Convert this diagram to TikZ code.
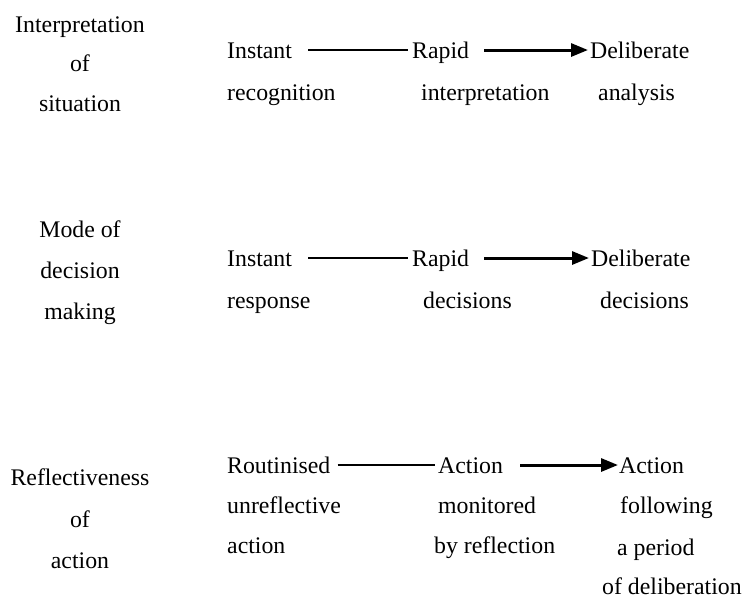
\documentclass[tikz,border=0pt]{standalone}
\usepackage{fontspec}
\setmainfont{Liberation Serif}
\usetikzlibrary{arrows.meta,calc}
\begin{document}
\begin{tikzpicture}[x=1pt,y=-1pt,
  lbl/.style={inner sep=0pt, anchor=base west, font=\fontsize{23.8}{28}\selectfont},
  side/.style={lbl, anchor=base},
  thinline/.style={line width=1.8pt},
  arrowline/.style={line width=3pt, -{Triangle[length=17pt,width=13pt]}}]
\useasboundingbox (0,0) rectangle (746,598);
% left column
\node[side] (l1a) at (80,32) {Interpretation};
\node[side] (l1b) at (80,71) {of};
\node[side] (l1c) at (80,111) {situation};
\node[side] (l2a) at (80,237) {Mode of};
\node[side] (l2b) at (80,278) {decision};
\node[side] (l2c) at (80,319) {making};
\node[side] (l3a) at (80,485) {Reflectiveness};
\node[side] (l3b) at (80,527) {of};
\node[side] (l3c) at (80,568) {action};
% row 1
\node[lbl] (a1) at (227,58) {Instant};
\node[lbl] (b1) at (412,58) {Rapid};
\node[lbl] (c1) at (590,58) {Deliberate};
\node[lbl] (a1b) at (227,100) {recognition};
\node[lbl] (b1b) at (421,100) {interpretation};
\node[lbl] (c1b) at (598,100) {analysis};
% row 2
\node[lbl] (a2) at (227,266) {Instant};
\node[lbl] (b2) at (412,266) {Rapid};
\node[lbl] (c2) at (591,266) {Deliberate};
\node[lbl] (a2b) at (227,308) {response};
\node[lbl] (b2b) at (423,308) {decisions};
\node[lbl] (c2b) at (600,308) {decisions};
% row 3
\node[lbl] (a3) at (227,473) {Routinised};
\node[lbl] (b3) at (438,473) {Action};
\node[lbl] (c3) at (619,473) {Action};
\node[lbl] (a3b) at (227,513) {unreflective};
\node[lbl] (b3b) at (438,513) {monitored};
\node[lbl] (c3b) at (620,513) {following};
\node[lbl] (a3c) at (227,553) {action};
\node[lbl] (b3c) at (434,553) {by reflection};
\node[lbl] (c3c) at (617,555) {a period};
\node[lbl] (c3d) at (602,594) {of deliberation};
% connectors
\draw[thinline] ($(a1.base east)+(16pt,8pt)$) -- ($(b1.base west)+(-4pt,8pt)$);
\draw[arrowline] ($(b1.base east)+(15pt,8pt)$) -- ($(c1.base west)+(-2pt,8pt)$);
\draw[thinline] ($(a2.base east)+(16pt,8pt)$) -- ($(b2.base west)+(-4pt,8pt)$);
\draw[arrowline] ($(b2.base east)+(15pt,8pt)$) -- ($(c2.base west)+(-2pt,8pt)$);
\draw[thinline] ($(a3.base east)+(7pt,8pt)$) -- ($(b3.base west)+(-3pt,8pt)$);
\draw[arrowline] ($(b3.base east)+(17pt,8pt)$) -- ($(c3.base west)+(-1pt,8pt)$);
\end{tikzpicture}
\end{document}
